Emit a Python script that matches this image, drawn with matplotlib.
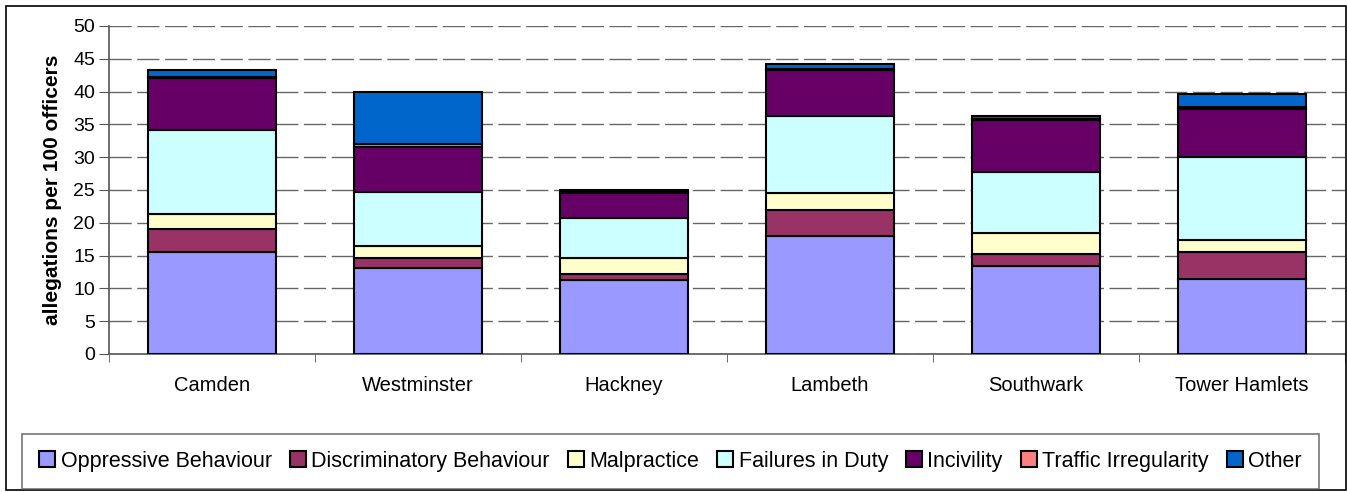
import matplotlib.pyplot as plt
import matplotlib.patches as mpatches
import numpy as np

plt.rcParams['font.family'] = ['Liberation Sans', 'DejaVu Sans']

boroughs = ['Camden', 'Westminster', 'Hackney', 'Lambeth', 'Southwark', 'Tower Hamlets']

# allegations per 100 officers, by type
oppressive = [15.5, 13.1, 11.3, 18.0, 13.4, 11.5]
discriminatory = [3.6, 1.5, 0.9, 4.0, 1.8, 4.1]
malpractice = [2.2, 1.9, 2.5, 2.6, 3.3, 1.8]
failures = [12.8, 8.2, 6.0, 11.7, 9.3, 12.7]
incivility = [8.0, 6.8, 3.9, 7.0, 7.9, 7.2]
traffic = [0.2, 0.5, 0.1, 0.1, 0.1, 0.4]
other = [1.0, 7.9, 0.3, 0.8, 0.5, 1.9]

series_names = ['Oppressive Behaviour', 'Discriminatory Behaviour', 'Malpractice',
                'Failures in Duty', 'Incivility', 'Traffic Irregularity', 'Other']
series_colors = ['#9999FF', '#993366', '#FFFFCC', '#CCFFFF', '#660066', '#FF8080', '#0066CC']
series_values = [oppressive, discriminatory, malpractice, failures, incivility, traffic, other]

fig = plt.figure(figsize=(13.47, 4.92), dpi=100)
ax = fig.add_axes([109 / 1347, 1 - 354 / 492, 1236 / 1347, 328 / 492])

x = np.arange(len(boroughs))
bottom = np.zeros(len(boroughs))
for name, col, vals in zip(series_names, series_colors, series_values):
    ax.bar(x, vals, width=0.62, bottom=bottom, color=col, edgecolor='black',
           linewidth=1.5, label=name, zorder=3)
    bottom += np.array(vals)

ax.set_xlim(-0.5, len(boroughs) - 0.5)
ax.set_ylim(0, 50)
ax.set_yticks(np.arange(0, 51, 5))
ax.yaxis.grid(True, color='#666666', linewidth=1, linestyle=(0, (16, 4)), zorder=0)
ax.set_axisbelow(True)

ax.set_xticks(x)
ax.set_xticklabels(boroughs, fontsize=14.5)
ax.set_xticks(np.arange(-0.5, len(boroughs)), minor=True)
ax.tick_params(axis='x', which='major', length=0, pad=16)
ax.tick_params(axis='x', which='minor', length=6, color='#555555')
ax.tick_params(axis='y', labelsize=14, length=7, color='#555555', pad=3)

ax.set_ylabel('allegations per 100 officers', fontsize=15, fontweight='bold', labelpad=8)

for side in ['top', 'right']:
    ax.spines[side].set_visible(False)
for side in ['left', 'bottom']:
    ax.spines[side].set_color('#555555')
    ax.spines[side].set_linewidth(1.2)

leg = fig.legend(loc='lower left', bbox_to_anchor=(22 / 1347, 3 / 492, 1297 / 1347, 60 / 492),
                 mode='expand', ncol=7, fontsize=15.5, frameon=True, fancybox=False,
                 handlelength=0.75, handleheight=0.75, handletextpad=0.25,
                 borderaxespad=0, borderpad=0.8)
leg.get_frame().set_edgecolor('#555555')
leg.get_frame().set_linewidth(1.2)

fig.patches.append(mpatches.Rectangle((6 / 1347, 2 / 492), 1340 / 1347, 484 / 492,
                                      transform=fig.transFigure, fill=False,
                                      edgecolor='black', linewidth=1.2))

fig.savefig('out.png', dpi=100)
